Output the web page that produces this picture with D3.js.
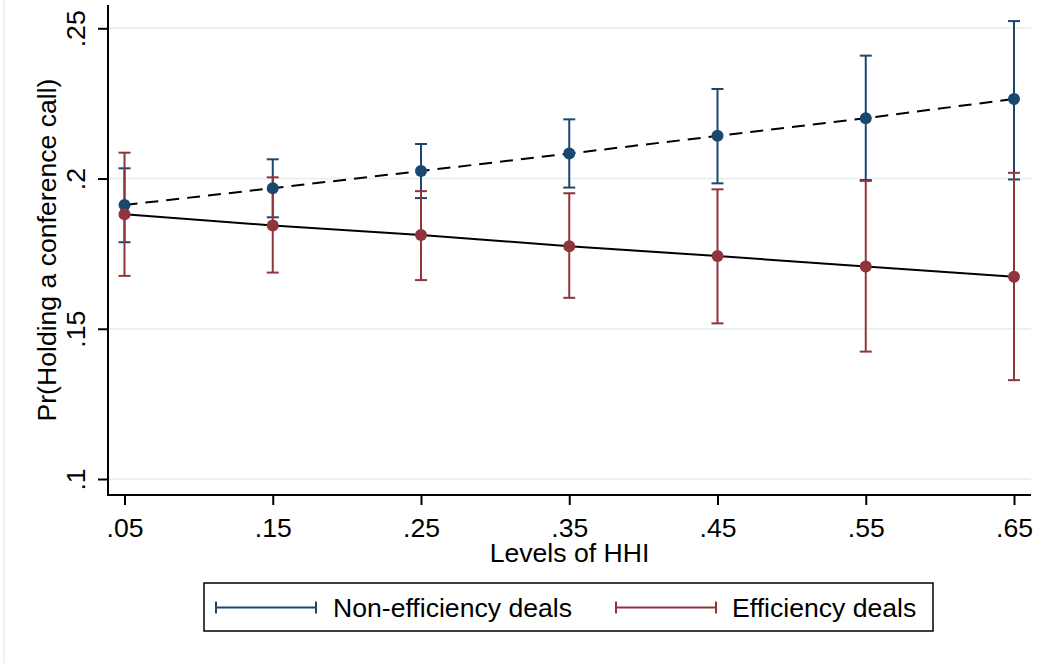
<!DOCTYPE html>
<html>
<head>
<meta charset="utf-8">
<script src="https://cdn.jsdelivr.net/npm/d3@7"></script>
<style>
  html, body { margin: 0; padding: 0; background: #fff; }
  svg { display: block; }
  text { font-family: "Liberation Sans", Arial, Helvetica, sans-serif; fill: #000; }
</style>
</head>
<body>
<svg id="chart" width="1053" height="665"></svg>
<script>
// HHI levels at which the predicted probabilities are evaluated
const hhiLevels = [0.05, 0.15, 0.25, 0.35, 0.45, 0.55, 0.65];
const xTickLabels = [".05", ".15", ".25", ".35", ".45", ".55", ".65"];

// Y axis ticks
const yTicks = [0.10, 0.15, 0.20, 0.25];
const yTickLabels = [".1", ".15", ".2", ".25"];

// Series names (legend order)
const seriesNames = ["Non-efficiency deals", "Efficiency deals"];

// Non-efficiency deals: predicted probability and 95% CI
const nonEffMean  = [0.1912, 0.1968, 0.2025, 0.2083, 0.2142, 0.2201, 0.2265];
const nonEffLower = [0.1788, 0.1871, 0.1935, 0.1970, 0.1984, 0.1995, 0.1997];
const nonEffUpper = [0.2034, 0.2064, 0.2115, 0.2197, 0.2298, 0.2409, 0.2524];

// Efficiency deals: predicted probability and 95% CI
const effMean  = [0.1881, 0.1844, 0.1812, 0.1775, 0.1742, 0.1707, 0.1673];
const effLower = [0.1676, 0.1687, 0.1662, 0.1603, 0.1518, 0.1424, 0.1329];
const effUpper = [0.2086, 0.2004, 0.1958, 0.1951, 0.1964, 0.1992, 0.2019];

const navy = "#1a476f";
const maroon = "#90353b";
const gridColor = "#e6eef0";
const fontSize = 26.6;

const svg = d3.select("#chart");

// Plot region
const plotLeft = 108, plotRight = 1031, plotTop = 5, plotBottom = 495;

const x = d3.scaleLinear().domain([0.05, 0.65]).range([124.5, 1014]);
const y = d3.scaleLinear().domain([0.10, 0.25]).range([479, 28.3]);

// faint outer frame edge on the left
svg.append("line")
  .attr("x1", 4).attr("x2", 4).attr("y1", 0).attr("y2", 663)
  .attr("stroke", "#ececec").attr("stroke-width", 1.5);

// Grid lines
svg.append("g").selectAll("line").data(yTicks).join("line")
  .attr("x1", plotLeft).attr("x2", plotRight)
  .attr("y1", d => y(d)).attr("y2", d => y(d))
  .attr("stroke", gridColor).attr("stroke-width", 1.6);

// Build series records
const series = [
  { name: seriesNames[0], color: navy, dash: "13,8", mean: nonEffMean, lo: nonEffLower, hi: nonEffUpper },
  { name: seriesNames[1], color: maroon, dash: null, mean: effMean, lo: effLower, hi: effUpper }
];
series.forEach(s => {
  s.points = hhiLevels.map((h, i) => ({ h, m: s.mean[i], lo: s.lo[i], hi: s.hi[i] }));
});

const capHalf = 6;

// Confidence intervals
series.forEach(s => {
  const g = svg.append("g").attr("stroke", s.color).attr("stroke-width", 2);
  g.selectAll("line.bar").data(s.points).join("line").attr("class", "bar")
    .attr("x1", d => x(d.h)).attr("x2", d => x(d.h))
    .attr("y1", d => y(d.lo)).attr("y2", d => y(d.hi));
  g.selectAll("line.capHi").data(s.points).join("line").attr("class", "capHi")
    .attr("x1", d => x(d.h) - capHalf).attr("x2", d => x(d.h) + capHalf)
    .attr("y1", d => y(d.hi)).attr("y2", d => y(d.hi));
  g.selectAll("line.capLo").data(s.points).join("line").attr("class", "capLo")
    .attr("x1", d => x(d.h) - capHalf).attr("x2", d => x(d.h) + capHalf)
    .attr("y1", d => y(d.lo)).attr("y2", d => y(d.lo));
});

// Connecting lines
const line = d3.line().x(d => x(d.h)).y(d => y(d.m));
series.forEach(s => {
  svg.append("path").datum(s.points)
    .attr("d", line)
    .attr("fill", "none")
    .attr("stroke", "#000")
    .attr("stroke-width", 2)
    .attr("stroke-dasharray", s.dash);
});

// Point markers
series.forEach(s => {
  svg.append("g").selectAll("circle").data(s.points).join("circle")
    .attr("cx", d => x(d.h)).attr("cy", d => y(d.m))
    .attr("r", 6)
    .attr("fill", s.color);
});

// Y axis
const yAxis = d3.axisLeft(y).tickValues(yTicks)
  .tickFormat((d, i) => yTickLabels[i]).tickSize(10).tickPadding(0);
const gy = svg.append("g").attr("transform", `translate(${plotLeft},0)`).call(yAxis);
gy.select(".domain").remove();
gy.selectAll(".tick line").attr("stroke", "#000").attr("stroke-width", 2);
gy.selectAll(".tick text")
  .attr("x", null).attr("dy", null)
  .attr("transform", "translate(-23,0) rotate(-90)")
  .attr("text-anchor", "middle")
  .style("font-size", fontSize + "px")
  .style("font-family", "'Liberation Sans', Arial, sans-serif");

// X axis
const xAxis = d3.axisBottom(x).tickValues(hhiLevels)
  .tickFormat((d, i) => xTickLabels[i]).tickSize(10).tickPadding(0);
const gx = svg.append("g").attr("transform", `translate(0,${plotBottom})`).call(xAxis);
gx.select(".domain").remove();
gx.selectAll(".tick line").attr("stroke", "#000").attr("stroke-width", 2);
gx.selectAll(".tick text")
  .attr("y", 42).attr("dy", null)
  .attr("text-anchor", "middle")
  .style("font-size", fontSize + "px")
  .style("font-family", "'Liberation Sans', Arial, sans-serif");

// Axis lines
svg.append("line")
  .attr("x1", plotLeft).attr("x2", plotLeft).attr("y1", plotTop).attr("y2", plotBottom)
  .attr("stroke", "#000").attr("stroke-width", 2);
svg.append("line")
  .attr("x1", plotLeft - 1).attr("x2", plotRight).attr("y1", plotBottom).attr("y2", plotBottom)
  .attr("stroke", "#000").attr("stroke-width", 2);

// Axis titles
svg.append("text")
  .attr("x", (plotLeft + plotRight) / 2).attr("y", 562)
  .attr("text-anchor", "middle")
  .style("font-size", fontSize + "px")
  .text("Levels of HHI");

svg.append("text")
  .attr("transform", `translate(55.5,${(plotTop + plotBottom) / 2}) rotate(-90)`)
  .attr("text-anchor", "middle")
  .style("font-size", fontSize + "px")
  .text("Pr(Holding a conference call)");

// Legend
const legend = svg.append("g");
legend.append("rect")
  .attr("x", 204).attr("y", 583).attr("width", 729).attr("height", 48)
  .attr("fill", "#fff").attr("stroke", "#000").attr("stroke-width", 1.5);

const legendKeys = [
  { x0: 216, x1: 316, tx: 333 },
  { x0: 616, x1: 716, tx: 732 }
];
const legendY = 607.5;
series.forEach((s, i) => {
  const k = legendKeys[i];
  const g = legend.append("g").attr("stroke", s.color).attr("stroke-width", 2);
  g.append("line").attr("x1", k.x0).attr("x2", k.x1).attr("y1", legendY).attr("y2", legendY);
  g.append("line").attr("x1", k.x0).attr("x2", k.x0).attr("y1", legendY - 6).attr("y2", legendY + 6);
  g.append("line").attr("x1", k.x1).attr("x2", k.x1).attr("y1", legendY - 6).attr("y2", legendY + 6);
  legend.append("text")
    .attr("x", k.tx).attr("y", 617)
    .style("font-size", fontSize + "px")
    .text(s.name);
});
</script>
</body>
</html>
